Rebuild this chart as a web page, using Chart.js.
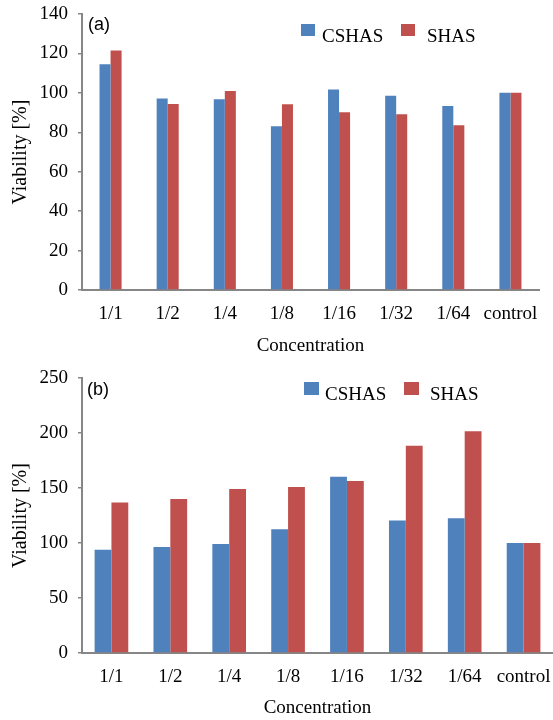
<!DOCTYPE html>
<html>
<head>
<meta charset="utf-8">
<script src="https://cdn.jsdelivr.net/npm/chart.js@4.4.1/dist/chart.umd.min.js"></script>
<style>
  html, body { margin: 0; padding: 0; background: #fff; }
  .panel { position: relative; width: 553px; height: 360px; }
</style>
</head>
<body>
<div class="panel"><canvas id="chartA"></canvas></div>
<div class="panel"><canvas id="chartB"></canvas></div>
<script>
const concentrations = ["1/1", "1/2", "1/4", "1/8", "1/16", "1/32", "1/64", "control"];

// panel (a)
const cshasA = [114.5, 97.1, 96.7, 83.1, 101.7, 98.5, 93.3, 100];
const shasA = [121.5, 94.4, 101, 94.2, 90.1, 89.2, 83.6, 100];
const yTicksA = [0, 20, 40, 60, 80, 100, 120, 140];

// panel (b)
const cshasB = [93.9, 96.4, 99.1, 112.4, 160.3, 120.5, 122.4, 100];
const shasB = [136.9, 140, 149.1, 150.9, 156.4, 188.5, 201.5, 100];
const yTicksB = [0, 50, 100, 150, 200, 250];

const BLUE = "#4f81bd";
const RED = "#c0504d";
const AXIS = "#868686";
const SERIF = "'Liberation Serif', 'Times New Roman', serif";
const SANS = "'Liberation Sans', Arial, sans-serif";

// panel tag and the Excel-style legend, drawn by hand
const overlay = {
  id: "overlay",
  afterDraw(chart, args, opts) {
    const ctx = chart.ctx;
    ctx.save();
    ctx.fillStyle = "#000";
    ctx.font = "18px " + SANS;
    ctx.textAlign = "left";
    ctx.textBaseline = "middle";
    ctx.fillText(opts.tag, opts.tagX, opts.tagY);

    ctx.font = "19px " + SERIF;
    ctx.textBaseline = "alphabetic";
    chart.data.datasets.forEach((ds, i) => {
      ctx.fillStyle = ds.backgroundColor;
      ctx.fillRect(opts.boxX[i], opts.boxY, opts.boxW, opts.boxH);
      ctx.fillStyle = "#000";
      ctx.fillText(ds.label, opts.textX[i], opts.textY);
    });
    ctx.restore();
  }
};

function makeChart(id, cshas, shas, yTicks, cfg) {
  return new Chart(document.getElementById(id), {
    type: "bar",
    data: {
      labels: concentrations,
      datasets: [
        { label: "CSHAS", data: cshas, backgroundColor: BLUE },
        { label: "SHAS", data: shas, backgroundColor: RED },
      ],
    },
    options: {
      responsive: true,
      maintainAspectRatio: false,
      animation: false,
      datasets: {
        bar: { categoryPercentage: cfg.catPct, barPercentage: 1.0 },
      },
      layout: { padding: cfg.padding },
      plugins: {
        legend: { display: false },
        tooltip: { enabled: false },
        overlay: cfg.overlay,
      },
      scales: {
        x: {
          afterFit: (s) => {
            s.height = cfg.xHeight;
            s.paddingLeft = 0;
            s.paddingRight = 0;
          },
          grid: { display: false },
          border: { display: true, color: AXIS, width: 2 },
          ticks: {
            color: "#000",
            padding: 5,
            autoSkip: false,
            maxRotation: 0,
            font: { family: SERIF, size: 19 },
          },
          title: {
            display: true,
            text: "Concentration",
            color: "#000",
            font: { family: SERIF, size: 19 },
            padding: { top: 0, bottom: cfg.xTitlePad },
          },
        },
        y: {
          min: yTicks[0],
          max: yTicks[yTicks.length - 1],
          afterBuildTicks: (s) => { s.ticks = yTicks.map((v) => ({ value: v })); },
          afterFit: (s) => {
            s.width = cfg.yWidth;
            s.paddingTop = 0;
            s.paddingBottom = 0;
          },
          grid: {
            display: true,
            drawOnChartArea: false,
            drawTicks: true,
            tickLength: 4,
            color: AXIS,
            lineWidth: 1.5,
          },
          border: { display: true, color: AXIS, width: 2 },
          ticks: {
            color: "#000",
            padding: 10,
            font: { family: SERIF, size: 19 },
          },
          title: {
            display: true,
            text: "Viability [%]",
            color: "#000",
            font: { family: SERIF, size: 20 },
            padding: { top: 9, bottom: 0 },
          },
        },
      },
    },
    plugins: [overlay],
  });
}

makeChart("chartA", cshasA, shasA, yTicksA, {
  catPct: 0.386,
  padding: { top: 14, right: 14, left: 0, bottom: 0 },
  xHeight: 70,
  yWidth: 82,
  xTitlePad: 3,
  overlay: {
    tag: "(a)", tagX: 88, tagY: 25,
    boxX: [301, 401], boxY: 24, boxW: 14, boxH: 12,
    textX: [322, 427], textY: 41.5,
  },
});

makeChart("chartB", cshasB, shasB, yTicksB, {
  catPct: 0.572,
  padding: { top: 18, right: 0, left: 0, bottom: 0 },
  xHeight: 67,
  yWidth: 82,
  xTitlePad: 1,
  overlay: {
    tag: "(b)", tagX: 87, tagY: 30,
    boxX: [304, 404], boxY: 22, boxW: 15, boxH: 13,
    textX: [325, 430], textY: 40,
  },
});
</script>
</body>
</html>
